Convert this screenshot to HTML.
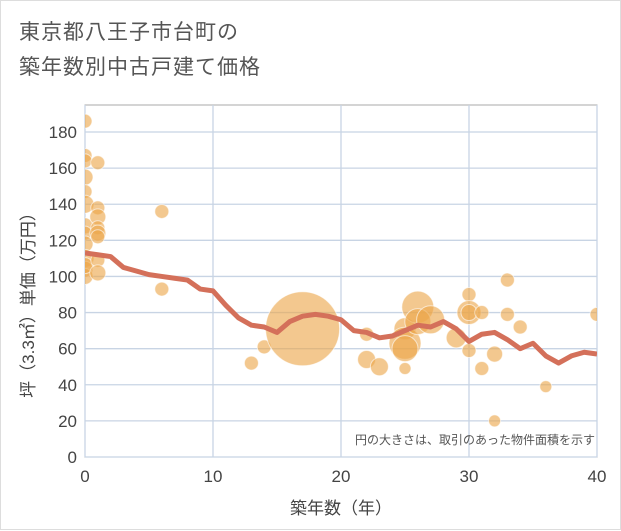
<!DOCTYPE html>
<html><head><meta charset="utf-8"><style>
body{margin:0;background:#fff;}
#wrap{position:relative;width:621px;height:530px;background:#fff;border:1px solid #ddd;box-sizing:border-box;font-family:"Liberation Sans","Noto Sans CJK JP",sans-serif;}
#title{position:absolute;left:18px;top:14px;font-size:21px;line-height:35px;color:#555;letter-spacing:1px;}
</style></head><body>
<div id="wrap">
<div id="title">東京都八王子市台町の<br>築年数別中古戸建て価格</div>
<svg id="chart" width="621" height="530" style="position:absolute;left:0;top:0"><defs><clipPath id="pc"><rect x="84" y="104" width="512" height="352"/></clipPath></defs></svg>
</div>
<script>
const xTicks=[0,10,20,30,40];
const yTicks=[0,20,40,60,80,100,120,140,160,180];
const lineYears=[0,1,2,3,4,5,6,7,8,9,10,11,12,13,14,15,16,17,18,19,20,21,22,23,24,25,26,27,28,29,30,31,32,33,34,35,36,37,38,39,40];
const lineValues=[113,112,111,105,103,101,100,99,98,93,92,84,77,73,72,69,75,78,79,78,76,70,69,66,67,70,73,72,75,71,64,68,69,65,60,63,56,52,56,58,57];
const bubbleX=[0,0,0,0,0,0,0,0,0,0,0,0,0,1,1,1,1,1,1,1,1,6,6,13,14,17,22,22,23,25,25,25,25,26,26,27,29,30,30,30,30,31,31,32,32,33,33,34,36,40];
const bubbleY=[186,167,164,155,147,140,128,124,118,110,104,100,106,163,138,133,127,124,122,109,102,136,93,52,61,71,68,54,50,71,63,60,49,83,75,76,66,90,80,59,80,80,49,57,20,98,79,72,39,79];
const bubbleR=[7,7,7,8,7,9,8,7,8,9,8,8,8,7,7,8,7,8,7,7,8,7,7,7,7,37,7,9,9,11,16,13,6,16,13,14,10,7,12,7,8,7,7,8,6,7,7,7,6,7];
const X0=84,X1=596,Y0=456,Y1=131;
const sx=v=>X0+(X1-X0)*v/40, sy=v=>Y0-(Y0-Y1)*v/180;
const svg=document.getElementById('chart'),NS='http://www.w3.org/2000/svg';
function mk(t,a,par){const e=document.createElementNS(NS,t);for(const k in a)e.setAttribute(k,a[k]);(par||svg).appendChild(e);return e;}
const bg=mk('rect',{x:X0,y:104,width:X1-X0,height:Y0-104,fill:'#fff',stroke:'#aaa'});


yTicks.forEach(v=>{const l=mk('line',{x1:X0,x2:X1,y1:sy(v),y2:sy(v),stroke:'#c8d4e4','stroke-width':1.3});


const t=mk('text',{x:X0-8,y:sy(v)+6,'text-anchor':'end','font-size':17,fill:'#444'});t.textContent=v;

});
xTicks.forEach(v=>{const l=mk('line',{x1:sx(v),x2:sx(v),y1:104,y2:Y0,stroke:'#c8d4e4','stroke-width':1.3});


const t=mk('text',{x:sx(v),y:Y0+25,'text-anchor':'middle','font-size':17,fill:'#444'});t.textContent=v;

});
const g=mk('g',{'clip-path':'url(#pc)'});


bubbleX.forEach((v,i)=>{const c=mk('circle',{cx:sx(v),cy:sy(bubbleY[i]),r:bubbleR[i],fill:'rgba(236,166,74,0.62)',stroke:'rgba(255,255,255,0.6)','stroke-width':1},g);

});
const p=mk('polyline',{points:lineYears.map((v,i)=>sx(v)+','+sy(lineValues[i])).join(' '),fill:'none',stroke:'#d4705a','stroke-width':5,'stroke-linejoin':'round'},g);


const n=mk('text',{x:594,y:443,'text-anchor':'end','font-size':12,fill:'#555'});n.textContent='円の大きさは、取引のあった物件面積を示す';


const xt=mk('text',{x:340,y:513,'text-anchor':'middle','font-size':17,fill:'#444'});xt.textContent='築年数（年）';


const yt=mk('text',{x:0,y:0,'text-anchor':'middle','font-size':17,fill:'#444',transform:'translate(33,300) rotate(-90)'});yt.textContent='坪（3.3㎡）単価（万円）';


</script>
</body></html>
